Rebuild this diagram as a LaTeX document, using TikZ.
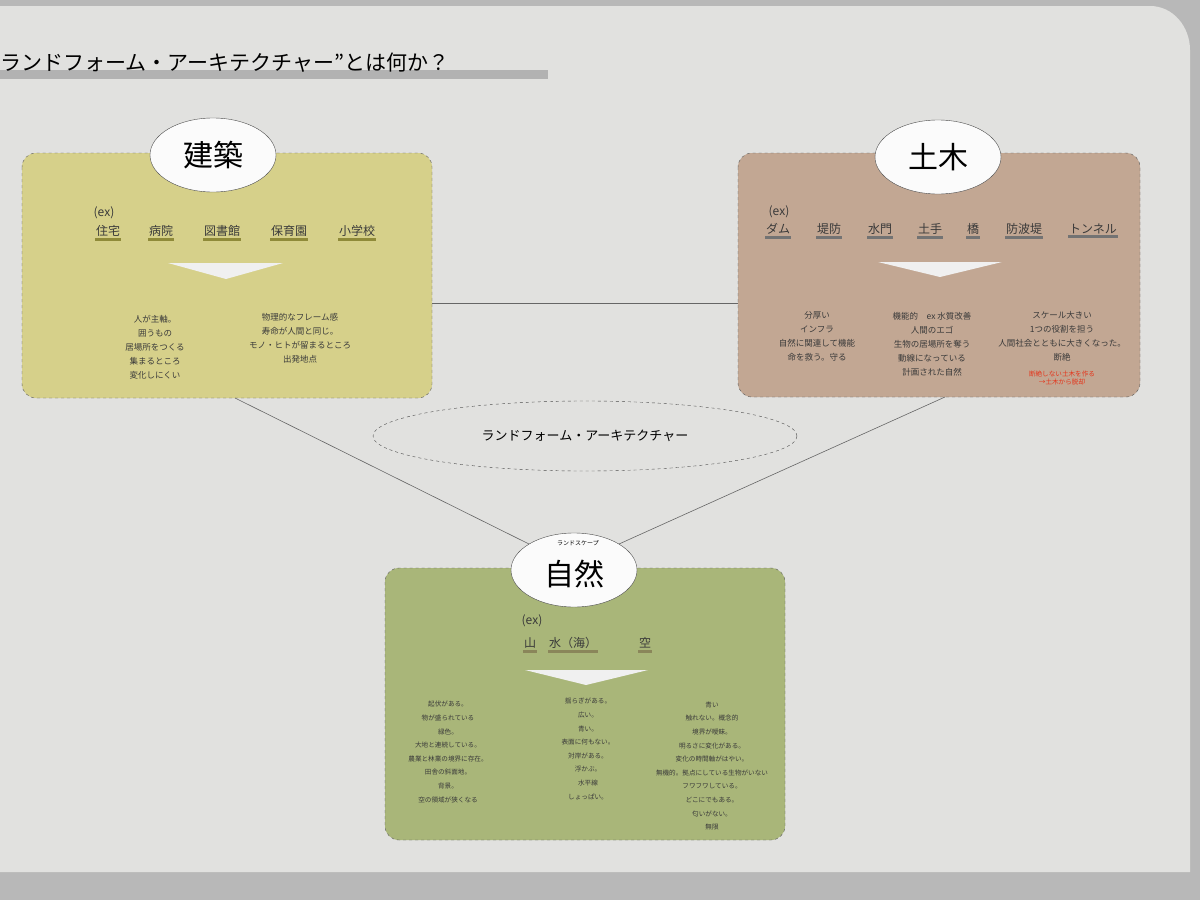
\documentclass[tikz,border=0pt]{standalone}
\usepackage{fontspec}
\setmainfont{Noto Sans CJK JP}
\usetikzlibrary{shapes.geometric}
\definecolor{paper}{HTML}{E1E1DF}
\definecolor{outer}{HTML}{B8B8B8}
\definecolor{archfill}{HTML}{D6D08A}
\definecolor{civfill}{HTML}{C2A793}
\definecolor{natfill}{HTML}{A9B679}
\definecolor{txt}{HTML}{3A3A3A}
\tikzset{
  box/.style={draw=gray!70!black, dashed, rounded corners=14pt},
  bigell/.style={ellipse, draw=black!70, fill=white!97!gray, minimum width=126pt, minimum height=74pt, font=\fontsize{30}{30}\selectfont},
  sm/.style={font=\fontsize{8.5}{10}\selectfont, text=txt, inner sep=0pt},
  xs/.style={font=\fontsize{6.6}{8}\selectfont, text=txt, inner sep=0pt},
  ex/.style={font=\fontsize{12}{14}\selectfont, text=txt, inner sep=1pt},
  link/.style={draw=black!60, line width=0.6pt},
  tri/.style={fill=white!88!gray, draw=none}
}
\begin{document}
\begin{tikzpicture}[x=1pt,y=-1pt]
\useasboundingbox (0,0) rectangle (1200,900);
\fill[outer] (0,0) rectangle (1200,900);
\fill[paper] (0,6) -- (1150,6) to[out=0,in=90] (1190,50) -- (1190,872) -- (0,872) -- cycle;
% title
\fill[gray!60] (0,70) rectangle (548,79);
\node[anchor=base west, inner sep=0pt, font=\fontsize{21}{22}\selectfont] (title) at (0,70) {ランドフォーム・アーキテクチャー”とは何か？};
% boxes
\path[box, fill=archfill] (22,153) rectangle (432,398);
\path[box, fill=civfill] (738,153) rectangle (1140,397);
\path[box, fill=natfill] (385,568) rectangle (785,840);
\coordinate (aR) at (432,303); \coordinate (cL) at (738,303);
\coordinate (aB) at (235,398); \coordinate (cB) at (945,397);
\node[bigell] (arch) at (213,155) {建築};
\node[bigell] (civ) at (938,157) {土木};
\node[bigell] (nat) at (574,570) {};
\node[font=\fontsize{30}{30}\selectfont] (natt) at (574,574) {自然};
\node[font=\fontsize{6}{7}\selectfont, inner sep=0pt] (natsub) at (578,543) {ランドスケープ};
\draw[link] (aR) -- (cL);
\draw[link] (aB) -- (nat.150);
\draw[link] (cB) -- (nat.30);
\node[ellipse, draw=black!70, dashed, minimum width=424pt, minimum height=70pt, font=\fontsize{13}{14}\selectfont] (la) at (585,436) {ランドフォーム・アーキテクチャー};
% architecture
\node[ex] (aex) at (104,213) {(ex)};
\foreach \t/\x [count=\i] in {住宅/108,病院/161,図書館/222,保育園/289,小学校/357}{
  \node[ex] (a\i) at (\x,231) {\t};
  \fill[olive!60!gray] (a\i.south west) rectangle ([yshift=-3pt]a\i.south east);
}
\fill[tri] (168,263) -- (283,263) -- (226,279) -- cycle;
\node[sm, align=center] (ac1) at (155,347) {人が主軸。\\[4pt]囲うもの\\[4pt]居場所をつくる\\[4pt]集まるところ\\[4pt]変化しにくい};
\node[sm, align=center] (ac2) at (300,338) {物理的なフレーム感\\[4pt]寿命が人間と同じ。\\[4pt]モノ・ヒトが留まるところ\\[4pt]出発地点};
% civil
\node[ex] (cex) at (779,212) {(ex)};
\foreach \t/\x [count=\i] in {ダム/778,堤防/829,水門/880,土手/930,橋/973,防波堤/1024,トンネル/1093}{
  \node[ex] (c\i) at (\x,229) {\t};
  \fill[black!55] (c\i.south west) rectangle ([yshift=-3pt]c\i.south east);
}
\fill[tri] (878,262) -- (1002,262) -- (940,277) -- cycle;
\node[sm, align=center] (cc1) at (817,336) {分厚い\\[4pt]インフラ\\[4pt]自然に関連して機能\\[4pt]命を救う。守る};
\node[sm, align=center] (cc2) at (932,344) {機能的　ex 水質改善\\[4pt]人間のエゴ\\[4pt]生物の居場所を奪う\\[4pt]動線になっている\\[4pt]計画された自然};
\node[sm, align=center] (cc3) at (1062,336) {スケール大きい\\[4pt]1つの役割を担う\\[4pt]人間社会とともに大きくなった。\\[4pt]断絶};
\node[xs, align=center, text=red!60!brown] (cc4) at (1062,378) {断絶しない土木を作る\\→土木から脱却};
% nature
\node[ex] (nex) at (532,621) {(ex)};
\foreach \t/\x [count=\i] in {山/530,水（海）/573,空/645}{
  \node[ex] (n\i) at (\x,643) {\t};
  \fill[olive!50!black!70] (n\i.south west) rectangle ([yshift=-3pt]n\i.south east);
}
\fill[tri] (525,670) -- (648,670) -- (586,685) -- cycle;
\node[xs, align=center] (nc1) at (448,752) {起伏がある。\\[5.6pt]物が盛られている\\[5.6pt]緑色。\\[5.6pt]大地と連続している。\\[5.6pt]農業と林業の境界に存在。\\[5.6pt]田舎の斜面地。\\[5.6pt]背景。\\[5.6pt]空の領域が狭くなる};
\node[xs, align=center] (nc2) at (588,749) {揺らぎがある。\\[5.6pt]広い。\\[5.6pt]青い。\\[5.6pt]表面に何もない。\\[5.6pt]対岸がある。\\[5.6pt]浮かぶ。\\[5.6pt]水平線\\[5.6pt]しょっぱい。};
\node[xs, align=center] (nc3) at (712,766) {青い\\[5.6pt]触れない。概念的\\[5.6pt]境界が曖昧。\\[5.6pt]明るさに変化がある。\\[5.6pt]変化の時間軸がはやい。\\[5.6pt]無機的。拠点にしている生物がいない\\[5.6pt]フワフワしている。\\[5.6pt]どこにでもある。\\[5.6pt]匂いがない。\\[5.6pt]無限};
\end{tikzpicture}
\end{document}
